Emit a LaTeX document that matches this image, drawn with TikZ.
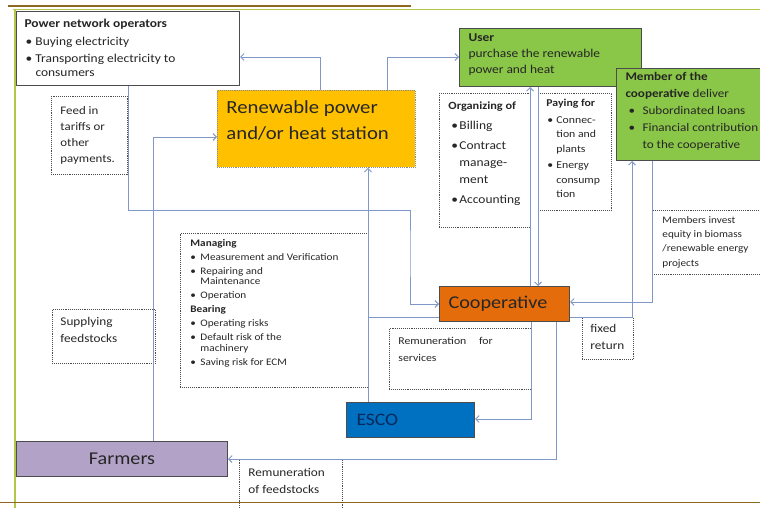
\documentclass[tikz,border=0pt]{standalone}
\usepackage{fontspec}
\setmainfont{Carlito}[FakeStretch=1.12]
\usetikzlibrary{arrows.meta}
\definecolor{connc}{RGB}{128,152,200}
\definecolor{goldc}{RGB}{255,192,0}
\definecolor{coopc}{RGB}{228,108,10}
\definecolor{grnc}{RGB}{138,198,72}
\definecolor{escoc}{RGB}{0,112,192}
\definecolor{farmc}{RGB}{179,162,199}
\definecolor{brnc}{RGB}{140,105,30}
\definecolor{olivec}{RGB}{175,200,70}
\newlength\bhang
\newlength\blead
\newcommand\bset[3]{\setlength\parskip{#1pt}\setlength\blead{#2pt}\setlength\bhang{#3pt}}
\newcommand\mybl[1]{\par\hangindent=\bhang\hangafter=1\noindent\makebox[\bhang][l]{\hspace*{\blead}\textbullet}#1}
\newcommand\mytb[3]{\parbox[c][#2pt][t]{#1pt}{\raggedright #3\par}}
\tikzset{
  solidbox/.style={draw=black!70, line width=1pt, anchor=north west, text=black!85},
  dotbox/.style={draw=black!70, densely dotted, line width=0.9pt, anchor=north west, text=black!85},
  conn/.style={draw=connc, line width=0.9pt},
  arr/.style={conn, -{Straight Barb[length=3.5pt,width=7pt]}}
}
\begin{document}
\begin{tikzpicture}[x=1pt,y=-1pt]
\useasboundingbox (0,0) rectangle (760,508);
\clip (0,0) rectangle (760,508);
% frame
\draw[brnc, line width=2pt] (8,6) -- (411,6);
\draw[olivec, line width=1pt] (13,9.5) -- (760,9.5);
\draw[olivec, line width=1.2pt] (15,9) -- (15,508);
\draw[brnc, line width=1.6pt] (0,502.5) -- (760,502.5);

% nodes
\node[solidbox, fill=white, inner xsep=8pt, inner ysep=8pt, font={\fontsize{12}{14}\selectfont}] (power) at (16,11)
  {\mytb{207}{58}{\bset{3.5}{1}{11}\textbf{Power network operators}\mybl{Buying electricity}\mybl{Transporting electricity to\newline consumers}}};
\node[dotbox, inner xsep=9pt, inner ysep=10pt, font={\fontsize{11.5}{16}\selectfont}] (feed) at (51,96)
  {\mytb{58}{58}{Feed in\\tariffs or\\other\\payments.}};
\node[dotbox, draw=black!45, fill=goldc, inner xsep=9pt, inner ysep=10pt, font={\fontsize{18.5}{26}\selectfont}] (renew) at (217,90)
  {\mytb{180}{57}{Renewable power\\and/or heat station}};
\node[solidbox, fill=grnc, inner xsep=9pt, inner ysep=5pt, font={\fontsize{12}{16}\selectfont}] (user) at (459,28)
  {\mytb{164}{48}{\textbf{User}\\purchase the renewable\\power and heat}};
\node[solidbox, fill=grnc, inner xsep=9pt, inner ysep=4pt, font={\fontsize{11.7}{17}\selectfont}] (member) at (616,68)
  {\mytb{142}{84}{\bset{0}{3}{17}\textbf{Member of the}\\\textbf{cooperative} deliver\mybl{Subordinated loans}\mybl{Financial contribution\newline to the cooperative}}};
\node[dotbox, inner xsep=9pt, inner ysep=8pt, font={\fontsize{12}{17}\selectfont}] (organ) at (439,93)
  {\mytb{73}{118}{\bset{3}{3}{11}\mbox{\fontsize{11}{17}\selectfont\textbf{Organizing of}}\mybl{Billing}\mybl{Contract\newline manage-\newline ment}\mybl{Accounting}}};
\node[dotbox, inner xsep=8pt, inner ysep=6pt, font={\fontsize{10.5}{14.5}\selectfont}] (paying) at (538,93)
  {\mytb{57}{105}{\bset{2}{1}{10}\textbf{Paying for}\mybl{Connec-\newline tion and\newline plants}\mybl{Energy\newline consump\newline tion}}};
\node[dotbox, inner xsep=10pt, inner ysep=6pt, font={\fontsize{10}{14.3}\selectfont}] (invest) at (652,210)
  {\mytb{100}{52}{Members invest\\equity in biomass\\/renewable energy\\projects}};
\node[dotbox, inner xsep=10pt, inner ysep=6pt, font={\fontsize{10}{10.5}\selectfont}] (manag) at (180,233)
  {\mytb{168}{142}{\bset{3.5}{0}{10}\textbf{Managing}\mybl{Measurement and Verification}\mybl{Repairing and\newline Maintenance}\mybl{Operation}\par\textbf{Bearing}\mybl{Operating risks}\mybl{Default risk of the\newline machinery}\mybl{Saving risk for ECM}}};
\node[dotbox, inner xsep=8pt, inner ysep=8pt, font={\fontsize{11.8}{17}\selectfont}] (supply) at (52,309)
  {\mytb{87}{38}{Supplying\\feedstocks}};
\node[solidbox, fill=coopc, minimum height=35pt, text width=112pt, inner xsep=9pt, inner ysep=0pt, align=left, font={\fontsize{18}{20}\selectfont}] (coop) at (439,286) {Cooperative};
\node[dotbox, inner xsep=8pt, inner ysep=7pt, font={\fontsize{11.8}{16.5}\selectfont}] (fixed) at (582,317)
  {\mytb{35}{28}{fixed\\return}};
\node[dotbox, inner xsep=9pt, inner ysep=9pt, font={\fontsize{10.5}{17}\selectfont}] (remserv) at (389,328)
  {\mytb{124}{43}{Remuneration\hspace{10pt} for\\services}};
\node[solidbox, fill=escoc, minimum height=35pt, text width=108pt, inner xsep=10pt, inner ysep=0pt, align=left, text={rgb,255:red,10;green,40;blue,90}, font={\fontsize{17.5}{19}\selectfont}] (esco) at (346,402) {ESCO};
\node[solidbox, fill=farmc, minimum width=211pt, minimum height=35pt, inner sep=0pt, font={\fontsize{18}{20}\selectfont}] (farm) at (16,441) {Farmers};
\node[dotbox, inner xsep=9pt, inner ysep=9pt, font={\fontsize{11.8}{16.5}\selectfont}] (remfeed) at (239,459)
  {\mytb{85}{38}{Remuneration\\of feedstocks}};

% connectors
\draw[arr] ([xshift=103pt]renew.north west) |- ([yshift=-46pt]power.north east);
\draw[arr] ([xshift=170pt]renew.north west) |- ([yshift=-29pt]user.north west);
\draw[arr] ([xshift=112pt]power.south west) -- ++(0,124) -| (410,250) |- ([yshift=-18pt]coop.north west);
\draw[arr] ([xshift=137pt]farm.north west) |- ([yshift=-47pt]renew.north west);
\draw[arr] ([xshift=22pt]esco.north west) -- ([xshift=151pt]renew.south west);
\draw[conn] ([yshift=5pt]coop.south west) -| ([xshift=22pt]esco.north west);
\draw[arr] ([xshift=92pt]coop.south west) |- ([yshift=-17pt]esco.north east);
\draw[arr] ([xshift=117pt]coop.south west) |- ([yshift=-18pt]farm.north east);
\draw[arr] ([xshift=91pt]coop.north west) -- ([xshift=71pt]user.south west);
\draw[arr] ([xshift=79pt]user.south west) -- ([xshift=99pt]coop.north west);
\draw[arr] ([xshift=36pt]member.south west) |- ([yshift=-16pt]coop.north east);
\draw[arr] ([yshift=5pt]coop.south east) -| ([xshift=16pt]member.south west);
\end{tikzpicture}
\end{document}
